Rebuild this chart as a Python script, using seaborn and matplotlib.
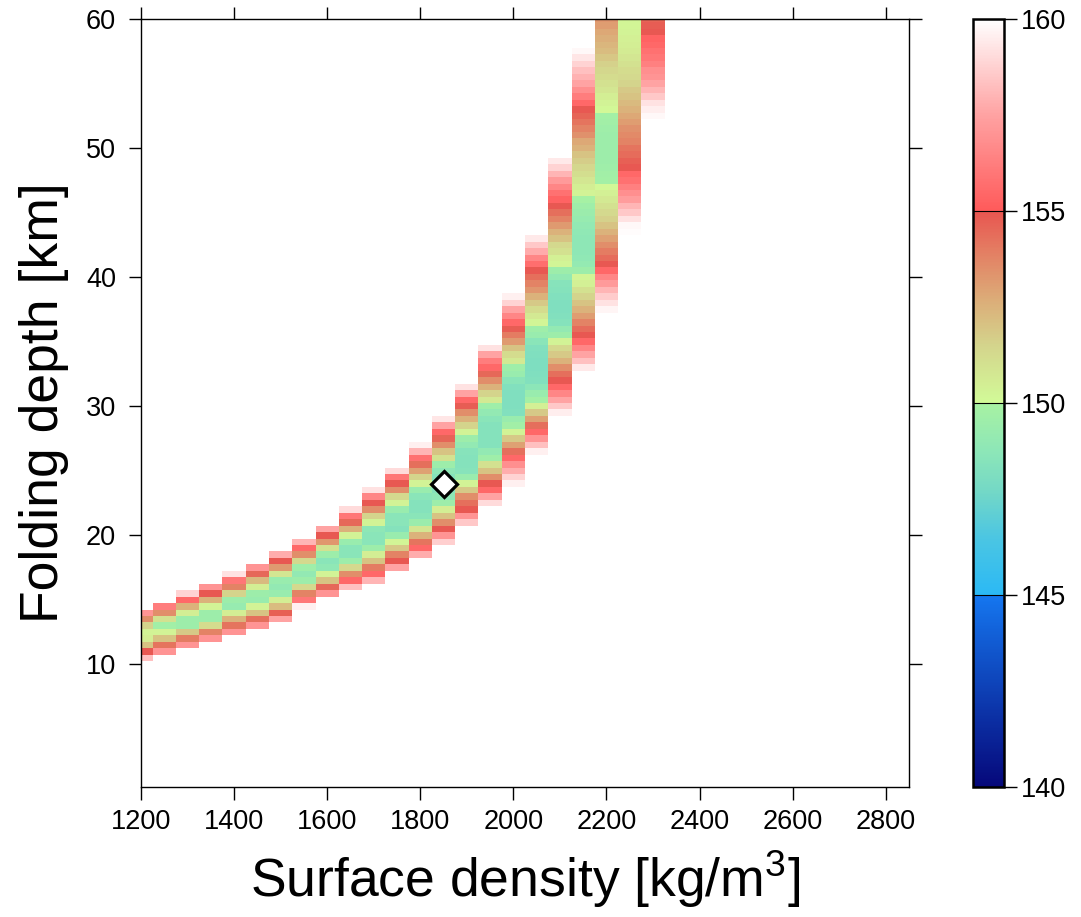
import numpy as np
import pandas as pd
import matplotlib
matplotlib.use("Agg")
import matplotlib.pyplot as plt
import seaborn as sns
from matplotlib.colors import LinearSegmentedColormap

# grid of the misfit map (cell centres)
density_grid = np.arange(1200, 2851, 50)      # kg/m3
depth_grid = np.arange(60.0, 0.25, -0.5)      # km, top row first

# columns that hold a value, the depth of their top cell and the cell values (top -> down)
band_density = [1200, 1250, 1300, 1350, 1400, 1450, 1500, 1550, 1600, 1650, 1700, 1750,
                1800, 1850, 1900, 1950, 2000, 2050, 2100, 2150, 2200, 2250, 2300]
band_top = [14.0, 14.5, 15.5, 16.0, 17.0, 17.5, 18.5, 19.5, 20.5, 22.0, 23.5, 25.0,
            27.0, 29.0, 31.5, 34.5, 38.5, 43.0, 49.0, 57.5, 60.0, 60.0, 60.0]
band_values = [
    [157.0, 153.5, 151.5, 150.3, 150.5, 152.0, 154.9, 158.3],
    [156.2, 153.5, 151.0, 149.7, 150.3, 152.0, 154.2, 157.0],
    [158.8, 155.5, 152.5, 150.5, 149.5, 149.5, 151.8, 154.0, 157.0],
    [157.0, 154.9, 152.5, 150.3, 149.5, 149.5, 151.2, 153.8, 157.0],
    [159.2, 156.0, 153.8, 151.5, 149.5, 149.2, 150.5, 152.5, 154.2, 157.0],
    [157.0, 154.5, 152.3, 150.5, 149.5, 149.3, 150.3, 152.0, 154.3, 157.0],
    [157.8, 154.9, 153.2, 150.8, 149.3, 149.0, 149.3, 150.5, 152.2, 154.7, 157.5],
    [158.0, 155.5, 153.5, 151.3, 149.6, 149.0, 149.5, 151.3, 153.8, 156.0, 159.6],
    [157.5, 154.9, 153.3, 151.0, 149.5, 148.6, 148.9, 150.3, 152.0, 154.5, 157.0],
    [159.0, 156.0, 154.5, 152.5, 150.3, 149.3, 148.6, 148.6, 149.5, 151.3, 153.5, 155.5,
     158.3],
    [159.2, 156.5, 154.9, 153.5, 151.5, 150.3, 148.8, 148.6, 148.6, 149.5, 150.5, 152.0,
     154.0, 155.5, 158.0],
    [159.0, 156.0, 154.9, 153.5, 151.3, 150.3, 149.3, 148.6, 148.6, 148.4, 149.3, 150.2,
     151.8, 153.8, 154.9, 157.5],
    [159.6, 158.0, 155.8, 154.3, 153.0, 151.5, 150.3, 149.3, 148.6, 148.4, 148.4, 148.6,
     149.4, 150.8, 152.5, 154.2, 155.5, 157.8],
    [159.3, 157.5, 155.5, 154.6, 153.5, 152.0, 151.0, 149.5, 148.8, 148.4, 148.3, 148.4,
     148.8, 149.5, 150.5, 152.0, 153.5, 154.9, 157.0, 158.7],
    [159.2, 157.5, 155.5, 154.8, 153.5, 152.5, 151.5, 150.3, 149.5, 149.0, 148.5, 148.4,
     148.4, 148.5, 149.3, 150.3, 151.8, 153.5, 154.3, 154.9, 157.0, 158.5],
    [159.2, 157.5, 156.2, 155.5, 154.5, 153.5, 152.5, 151.5, 150.7, 149.6, 149.0, 148.6,
     148.4, 148.4, 148.4, 148.4, 149.0, 149.6, 151.0, 152.0, 153.5, 154.9, 155.5, 157.5,
     159.0],
    [159.6, 158.8, 157.5, 156.5, 155.5, 154.8, 154.0, 153.2, 152.0, 151.2, 150.7, 149.6,
     149.3, 148.6, 148.3, 148.2, 148.2, 148.2, 148.3, 149.3, 149.7, 150.3, 151.8, 153.0,
     154.3, 155.5, 156.8, 157.8, 158.8, 159.6],
    [159.4, 158.5, 157.7, 156.5, 155.7, 154.9, 154.3, 153.8, 153.3, 152.5, 151.8, 151.2,
     150.7, 150.2, 149.6, 149.3, 148.6, 148.3, 148.2, 148.1, 148.1, 148.2, 148.3, 148.7,
     149.3, 149.8, 150.4, 151.8, 153.0, 154.3, 155.5, 157.0, 158.3, 159.6],
    [159.4, 158.8, 158.0, 157.2, 156.5, 155.8, 155.3, 154.9, 154.3, 153.8, 153.2, 152.5,
     152.0, 151.3, 151.0, 150.4, 150.2, 149.5, 149.0, 148.5, 148.4, 148.3, 148.2, 148.2,
     148.3, 148.4, 149.0, 149.5, 150.3, 151.3, 151.8, 152.5, 153.5, 154.3, 154.9, 155.5,
     156.5, 157.5, 158.5, 159.5],
    [159.8, 159.3, 158.8, 158.3, 157.9, 157.5, 156.8, 156.2, 155.5, 154.9, 154.6, 154.2,
     153.8, 153.4, 152.8, 152.5, 152.0, 151.7, 151.4, 151.1, 150.8, 150.5, 150.3, 149.9,
     149.6, 149.4, 149.2, 149.0, 148.9, 148.8, 148.8, 148.8, 148.9, 149.1, 149.5, 150.2,
     150.4, 151.0, 151.5, 152.0, 152.5, 153.1, 153.8, 154.4, 154.9, 155.5, 156.5, 157.5,
     158.3, 159.4],
    [153.3, 153.1, 152.8, 152.6, 152.4, 152.2, 151.9, 151.6, 151.4, 151.2, 151.0, 150.8,
     150.5, 150.3, 150.1, 149.8, 149.7, 149.6, 149.5, 149.5, 149.5, 149.5, 149.5, 149.6,
     149.7, 149.8, 150.1, 150.4, 150.7, 151.0, 151.3, 151.6, 152.0, 152.5, 153.0, 153.5,
     154.0, 154.4, 154.9, 155.5, 156.5, 157.2, 158.0, 158.6, 159.2, 159.7],
    [150.2, 150.2, 150.3, 150.4, 150.5, 150.6, 150.8, 151.0, 151.2, 151.3, 151.5, 151.8,
     152.0, 152.3, 152.5, 152.8, 153.1, 153.4, 153.6, 153.8, 154.2, 154.4, 154.7, 154.9,
     155.5, 155.8, 156.3, 156.8, 157.3, 158.0, 158.5, 159.2, 159.8, 159.9],
    [154.6, 154.8, 154.9, 155.3, 155.5, 155.8, 156.0, 156.3, 156.8, 157.0, 157.5, 158.0,
     158.5, 159.2, 159.5, 159.8],
]

# best fitting model
best_density = 1850
best_depth = 24

x_ticks = [1200, 1400, 1600, 1800, 2000, 2200, 2400, 2600, 2800]
y_ticks = [10, 20, 30, 40, 50, 60]
cbar_ticks = [140, 145, 150, 155, 160]

# colour palette, with steps at 145, 150 and 155
cmap_nodes = [(140, "#06087a"), (145, "#1577f0"), (145, "#2bb9f5"), (146.5, "#4cc6e2"),
              (147.7, "#74d8c6"), (148.7, "#8ce6b8"), (150, "#a8f2a2"), (150, "#d2fa98"),
              (151.5, "#d4d48c"), (152.7, "#dcac78"), (154, "#e47c62"), (155, "#e85550"),
              (155, "#ff5a5a"), (157.5, "#ffa2a2"), (160, "#ffffff")]
cmap = LinearSegmentedColormap.from_list(
    "misfit", [((v - 140) / 20, c) for v, c in cmap_nodes], N=512)

# build the grid, empty cells stay white
grid = np.full((len(depth_grid), len(density_grid)), np.nan)
for d, top, vals in zip(band_density, band_top, band_values):
    j = list(density_grid).index(d)
    i0 = int(round((depth_grid[0] - top) / 0.5))
    grid[i0:i0 + len(vals), j] = vals
df = pd.DataFrame(grid, index=depth_grid, columns=density_grid)

sns.set_style("ticks")
plt.rcParams["font.family"] = ["Liberation Sans", "DejaVu Sans"]
plt.rcParams["mathtext.fontset"] = "custom"
plt.rcParams["mathtext.rm"] = "Liberation Sans"
plt.rcParams["mathtext.default"] = "regular"
plt.rcParams["text.color"] = "black"
plt.rcParams["axes.labelcolor"] = "black"
plt.rcParams["xtick.color"] = "black"
plt.rcParams["ytick.color"] = "black"

fig = plt.figure(figsize=(10.81, 9.17), dpi=100)
ax = fig.add_axes([141 / 1081, 1 - 787 / 917, 768 / 1081, 768 / 917])
cax = fig.add_axes([973 / 1081, 1 - 787 / 917, 31 / 1081, 768 / 917])

sns.heatmap(df, cmap=cmap, vmin=140, vmax=160, ax=ax, cbar_ax=cax,
            xticklabels=False, yticklabels=False, linewidths=0,
            cbar_kws={"ticks": cbar_ticks})


# heatmap cells sit on integer positions, so map data values onto them
def xpos(v):
    return (v - density_grid[0]) / 50 + 0.5


def ypos(v):
    return (depth_grid[0] - v) / 0.5 + 0.5


ax.set_xlim(xpos(1200), xpos(2850))
ax.set_ylim(ypos(0.5), ypos(60))
ax.set_xticks([xpos(v) for v in x_ticks])
ax.set_xticklabels([str(v) for v in x_ticks], rotation=0)
ax.set_yticks([ypos(v) for v in y_ticks])
ax.set_yticklabels([str(v) for v in y_ticks], rotation=0)
ax.tick_params(top=True, right=True, labeltop=False, labelright=False,
               direction="out", length=9, width=1, labelsize=19.5,
               colors="black", labelcolor="black")
ax.tick_params(axis="x", pad=7)
ax.tick_params(axis="y", pad=9)
for s in ax.spines.values():
    s.set_visible(True)
    s.set_linewidth(1)
    s.set_color("black")

ax.plot(xpos(best_density), ypos(best_depth), marker="D", ms=13,
        mfc="white", mec="black", mew=2.3)

ax.set_xlabel("Surface density [kg/m$^3$]", fontsize=38.5, labelpad=10, color="black")
ax.set_ylabel("Folding depth [km]", fontsize=38.5, labelpad=12, color="black")

cbar = ax.collections[0].colorbar
cbar.outline.set_linewidth(1.8)
cbar.outline.set_edgecolor("black")
cbar.ax.tick_params(direction="out", length=9, width=1, labelsize=19.5, pad=3,
                    colors="black", labelcolor="black")
for v in cbar_ticks[1:-1]:
    cbar.ax.axhline(v, color="black", lw=0.8)

fig.savefig("out.png", dpi=100)
